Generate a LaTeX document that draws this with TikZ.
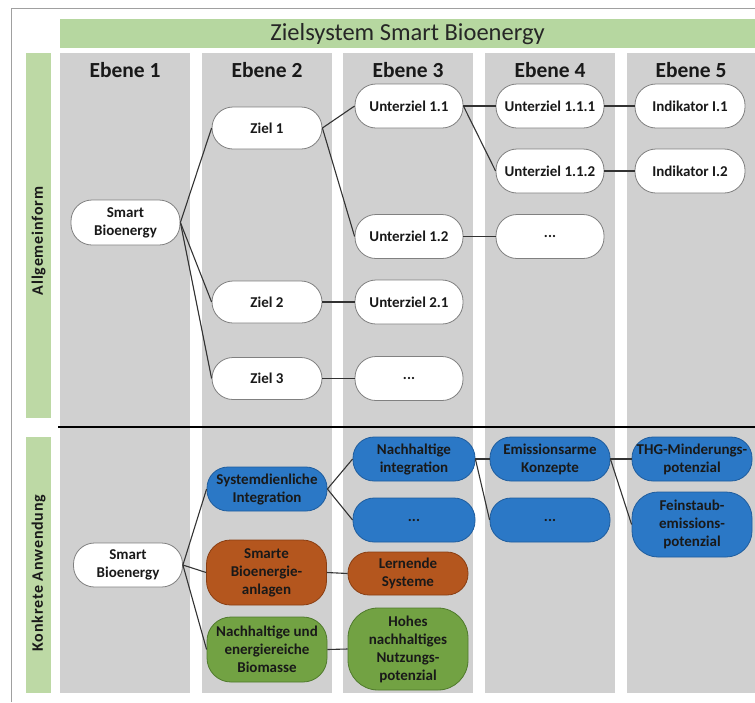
\documentclass[tikz,border=0pt]{standalone}
\usepackage{fontspec}
\setmainfont{Carlito}
\newfontfamily\sidefont[LetterSpace=5]{Carlito}
\definecolor{bannergreen}{HTML}{B6D7A0}
\definecolor{bargreen}{HTML}{BDD9A5}
\definecolor{colgray}{HTML}{D0D0D0}
\definecolor{nblue}{HTML}{2B78C6}
\definecolor{nbluedark}{HTML}{1F5D9E}
\definecolor{nbrown}{HTML}{B4561E}
\definecolor{nbrowndark}{HTML}{8A3E12}
\definecolor{ngreen}{HTML}{72A243}
\definecolor{ngreendark}{HTML}{4F7A2C}
\definecolor{framegray}{HTML}{A0A0A0}
\definecolor{linegray}{HTML}{333333}
\tikzset{
  basenode/.style={rounded corners=21pt, align=center, inner sep=0pt,
    line width=0.8pt, minimum height=44pt,
    font=\bfseries\fontsize{15}{18}\selectfont, text=black!90},
  wnode/.style={basenode, draw=black!50, fill=white, minimum width=109pt},
  bnode/.style={basenode, draw=nbluedark, fill=nblue, minimum width=120pt},
  brnode/.style={basenode, draw=nbrowndark, fill=nbrown, minimum width=120pt},
  gnode/.style={basenode, draw=ngreendark, fill=ngreen, minimum width=120pt},
  conn/.style={draw=linegray, line width=1.1pt},
  colbox/.style={fill=colgray, draw=none},
  header/.style={font=\bfseries\fontsize{21.5}{24}\selectfont, text=black!90},
  sidelabel/.style={rotate=90, font=\sidefont\bfseries\fontsize{16}{18}\selectfont, text=black!90}
}
\begin{document}
\begin{tikzpicture}[x=1pt,y=-1pt]
\useasboundingbox (0,0) rectangle (755,702);
% frame
\draw[framegray, line width=0.8pt] (11.5,702) -- (11.5,8) -- (755,8);
% banner
\fill[bannergreen] (60,19) rectangle (755,48);
\node[font=\fontsize{24.5}{27}\selectfont, text=black!85] (title) at (407.5,34) {Zielsystem Smart Bioenergy};
% side bars
\fill[bargreen] (26,53) rectangle (51,418);
\fill[bargreen] (26,437) rectangle (51,693);
\node[sidelabel] (lab1) at (38.5,241) {Allgemeinform};
\node[sidelabel] (lab2) at (38.5,573) {Konkrete Anwendung};
% columns
\fill[colbox] (60,53) rectangle (190,693);
\fill[colbox] (202,53) rectangle (332,693);
\fill[colbox] (343,53) rectangle (473,693);
\fill[colbox] (485,53) rectangle (615,693);
\fill[colbox] (627,53) rectangle (755,693);
\node[header] (h1) at (125,70) {Ebene 1};
\node[header] (h2) at (267,70) {Ebene 2};
\node[header] (h3) at (408,70) {Ebene 3};
\node[header] (h4) at (550,70) {Ebene 4};
\node[header] (h5) at (691,70) {Ebene 5};
% separator
\draw[black, line width=2pt] (58,427) -- (755,427);
% upper nodes
\node[wnode, minimum height=45pt] (s1) at (125.5,222.5) {Smart\\Bioenergy};
\node[wnode, minimum width=110pt, minimum height=42pt] (z1) at (267,128) {Ziel 1};
\node[wnode, minimum width=110pt, minimum height=42pt] (z2) at (267,302) {Ziel 2};
\node[wnode, minimum width=110pt, minimum height=42pt] (z3) at (267,378.5) {Ziel 3};
\node[wnode, minimum width=108pt] (u11) at (409,106) {Unterziel 1.1};
\node[wnode, minimum width=108pt] (u12) at (409,236.5) {Unterziel 1.2};
\node[wnode, minimum width=108pt] (u21) at (409,302) {Unterziel 2.1};
\node[wnode, minimum width=108pt] (d3) at (409,378.5) {...};
\node[wnode, minimum width=108pt] (u111) at (550,106) {Unterziel 1.1.1};
\node[wnode, minimum width=108pt] (u112) at (550,171) {Unterziel 1.1.2};
\node[wnode, minimum width=108pt] (d4) at (550,236.5) {...};
\node[wnode, minimum width=110pt] (i1) at (690,106) {Indikator I.1};
\node[wnode, minimum width=110pt] (i2) at (690,171) {Indikator I.2};
% upper connectors
\draw[conn] (s1.east) -- (z1.west);
\draw[conn] (s1.east) -- (z2.west);
\draw[conn] (s1.east) -- (z3.west);
\draw[conn] (z1.east) -- (u11.west);
\draw[conn] (z1.east) -- (u12.west);
\draw[conn] (z2.east) -- (u21.west);
\draw[conn] (z3.east) -- (d3.west);
\draw[conn] (u11.east) -- (u111.west);
\draw[conn] (u11.east) -- (u112.west);
\draw[conn] (u12.east) -- (d4.west);
\draw[conn] (u111.east) -- (i1.west);
\draw[conn] (u112.east) -- (i2.west);
% lower nodes
\node[wnode] (s2) at (128,565) {Smart\\Bioenergy};
\node[bnode] (si) at (267,489) {Systemdienliche\\Integration};
\node[brnode, minimum height=65pt, rounded corners=24pt] (sb) at (266.5,572.5) {Smarte\\Bioenergie-\\anlagen};
\node[gnode, minimum height=65pt, rounded corners=24pt] (nb) at (267,649.5) {Nachhaltige und\\energiereiche\\Biomasse};
\node[bnode, minimum width=122pt] (ni) at (414,459) {Nachhaltige\\integration};
\node[bnode, minimum width=122pt] (dl3) at (414,520) {...};
\node[brnode, minimum height=43pt] (ls) at (408,573.5) {Lernende\\Systeme};
\node[gnode, minimum height=82pt, rounded corners=30pt] (hn) at (408,649) {Hohes\\nachhaltiges\\Nutzungs-\\potenzial};
\node[bnode] (ek) at (550,459) {Emissionsarme\\Konzepte};
\node[bnode] (dl4) at (550,520) {...};
\node[bnode] (thg) at (692,459) {THG-Minderungs-\\potenzial};
\node[bnode, minimum height=65pt, rounded corners=26pt] (fs) at (692,524.5) {Feinstaub-\\emissions-\\potenzial};
% lower connectors
\draw[conn] (s2.east) -- (si.west);
\draw[conn] (s2.east) -- (sb.west);
\draw[conn] (s2.east) -- (nb.west);
\draw[conn] (si.east) -- (ni.west);
\draw[conn] (si.east) -- (dl3.west);
\draw[conn] (sb.east) -- (ls.west);
\draw[conn] (nb.east) -- (hn.west);
\draw[conn] (ni.east) -- (ek.west);
\draw[conn] (ni.east) -- (dl4.west);
\draw[conn] (ek.east) -- (thg.west);
\draw[conn] (ek.east) -- (fs.west);
\end{tikzpicture}
\end{document}
